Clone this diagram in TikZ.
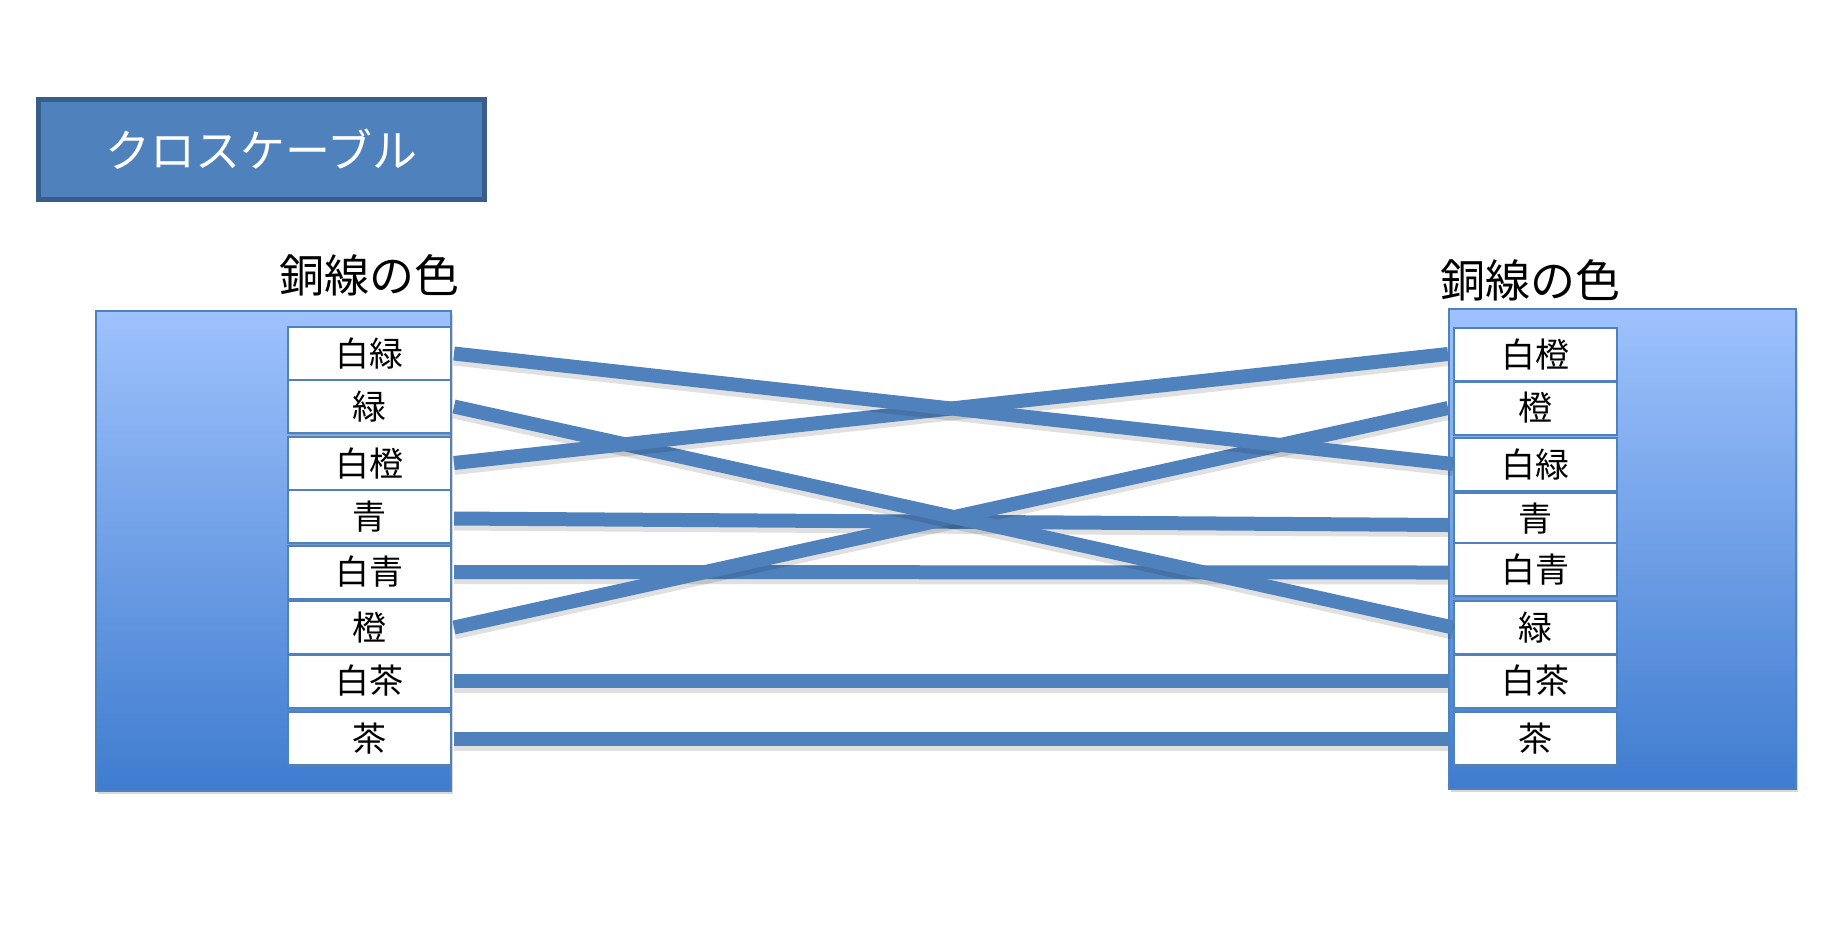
\documentclass[tikz,border=0pt]{standalone}
\usepackage{fontspec}
\setmainfont{Noto Sans CJK JP}
\usetikzlibrary{shadows}
\definecolor{accent}{HTML}{4F81BD}
\definecolor{accentdark}{HTML}{385D8A}
\definecolor{paneltop}{HTML}{9EC2FD}
\definecolor{panelbot}{HTML}{3F7CCF}
\tikzset{
  cell/.style={draw=accent, line width=1pt, fill=white, minimum width=81.5pt, minimum height=26.5pt, inner sep=0pt, font=\fontsize{17pt}{17pt}\selectfont,
    drop shadow={opacity=0.3, shadow xshift=0.6pt, shadow yshift=-0.8pt}},
  panel/.style={draw=accent, line width=0.8pt, top color=paneltop, bottom color=panelbot, shading angle=0,
    drop shadow={opacity=0.3, shadow xshift=1pt, shadow yshift=-1.5pt}},
  heading/.style={font=\fontsize{22.5pt}{22.5pt}\selectfont, inner sep=0pt},
  wire/.style={draw=accent, line width=7pt},
  wireshadow/.style={draw=black, opacity=0.12, line width=8pt},
}
\begin{document}
\begin{tikzpicture}[x=0.5pt, y=-0.5pt]
\useasboundingbox[fill=white] (0,0) rectangle (1834,944);
% title
\node[draw=accentdark, line width=2.5pt, fill=accent, minimum width=223pt, minimum height=50pt, inner sep=0pt,
  text=white, font=\fontsize{22.5pt}{22.5pt}\selectfont] (title) at (261.5,149.5) {クロスケーブル};
% panels
\path[panel] (96,311) rectangle (451,791);
\path[panel] (1449,309) rectangle (1796,789);
\node[heading] (lh) at (369,275) {銅線の色};
\node[heading] (rh) at (1530,280) {銅線の色};
% left cells
\node[cell] (L1) at (369.5,353.5) {白緑};
\node[cell] (L2) at (369.5,406.5) {緑};
\node[cell] (L3) at (369.5,463) {白橙};
\node[cell] (L4) at (369.5,516.5) {青};
\node[cell] (L5) at (369.5,572) {白青};
\node[cell] (L6) at (369.5,627.5) {橙};
\node[cell] (L7) at (369.5,681) {白茶};
\node[cell] (L8) at (369.5,738.5) {茶};
% right cells
\node[cell] (R1) at (1535.5,354) {白橙};
\node[cell] (R2) at (1535.5,408) {橙};
\node[cell] (R3) at (1535.5,464) {白緑};
\node[cell] (R4) at (1535.5,519) {青};
\node[cell] (R5) at (1535.5,569.5) {白青};
\node[cell] (R6) at (1535.5,627.5) {緑};
\node[cell] (R7) at (1535.5,681) {白茶};
\node[cell] (R8) at (1535.5,738.5) {茶};
% wires
\foreach \a/\b/\sa/\sb/\xb in {L8/R8/0/0/-2.5, L7/R7/0/0/-2.5, L5/R5/0/-1.5/-2.5, L4/R4/-1/-3/-2.5, L6/R2/0/0/-2.5, L2/R6/0/0/0, L3/R1/0/0/-2.5, L1/R3/0/0/0}{
  \draw[wireshadow] ([xshift=1pt,yshift=\sa pt-2pt]\a.east) -- ([xshift=\xb pt,yshift=\sb pt-2pt]\b.west);
  \draw[wire] ([xshift=1pt,yshift=\sa pt]\a.east) -- ([xshift=\xb pt,yshift=\sb pt]\b.west);
}
\end{tikzpicture}
\end{document}
